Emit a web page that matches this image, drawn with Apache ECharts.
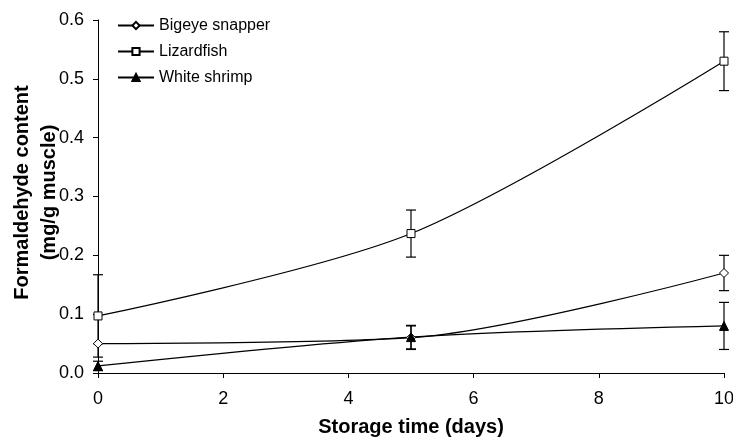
<!DOCTYPE html>
<html>
<head>
<meta charset="utf-8">
<script src="https://cdn.jsdelivr.net/npm/echarts@6/dist/echarts.min.js"></script>
<style>
html, body { margin: 0; padding: 0; background: #fff; }
#chart { width: 733px; height: 437px; }
</style>
</head>
<body>
<div id="chart"></div>
<script>
// storage time (days) and formaldehyde content (mg/g muscle), mean and +- sd
var days = [0, 5, 10];
var bigeye = [0.05, 0.06, 0.17];
var bigeyeErr = [0, 0.02, 0.03];
var lizard = [0.097, 0.237, 0.53];
var lizardErr = [0.07, 0.04, 0.05];
var shrimp = [0.012, 0.061, 0.08];
var shrimpErr = [0.008, 0.02, 0.04];
var names = ["Bigeye snapper", "Lizardfish", "White shrimp"];

var font = "'Liberation Sans', Arial, sans-serif";

function pairs(vals) {
  return days.map(function (d, i) { return [d, vals[i]]; });
}

// vertical error bars with caps
function errorBars(id, vals, errs) {
  return {
    type: "custom",
    name: id,
    silent: true,
    z: 1,
    data: days.map(function (d, i) {
      return [d, vals[i] - errs[i], vals[i] + errs[i]];
    }),
    renderItem: function (params, api) {
      var lo = api.coord([api.value(0), api.value(1)]);
      var hi = api.coord([api.value(0), api.value(2)]);
      var w = 5;
      var style = { stroke: "#000", lineWidth: 1.2 };
      return {
        type: "group",
        children: [
          { type: "line", shape: { x1: lo[0], y1: lo[1], x2: hi[0], y2: hi[1] }, style: style },
          { type: "line", shape: { x1: lo[0] - w, y1: lo[1], x2: lo[0] + w, y2: lo[1] }, style: style },
          { type: "line", shape: { x1: hi[0] - w, y1: hi[1], x2: hi[0] + w, y2: hi[1] }, style: style }
        ]
      };
    }
  };
}

function lineSeries(name, vals, symbol, size, fill) {
  return {
    type: "line",
    name: name,
    data: pairs(vals),
    smooth: 0.3,
    symbol: symbol,
    symbolSize: size,
    showAllSymbol: true,
    z: 3,
    lineStyle: { color: "#000", width: 1.2 },
    itemStyle: { color: fill, borderColor: "#000", borderWidth: 1 }
  };
}

var myChart = echarts.init(document.getElementById("chart"));
var option = {
  backgroundColor: "#fff",
  animation: false,
  textStyle: { fontFamily: font, color: "#000" },
  grid: { left: 98, right: 9, top: 20, bottom: 64, outerBoundsMode: "none", containLabel: false },
  legend: {
    data: names,
    orient: "vertical",
    left: 112,
    top: 12,
    itemWidth: 36,
    itemHeight: 9,
    itemGap: 9,
    textStyle: { fontFamily: font, fontSize: 16, color: "#000", lineHeight: 17 }
  },
  xAxis: {
    type: "value",
    min: 0,
    max: 10,
    interval: 2,
    name: "Storage time (days)",
    nameLocation: "middle",
    nameGap: 44,
    nameMoveOverlap: false,
    nameTextStyle: { fontFamily: font, fontSize: 20, fontWeight: "bold", color: "#000" },
    axisLine: { lineStyle: { color: "#000", width: 1 } },
    axisTick: { show: true, length: 5, lineStyle: { color: "#000" } },
    axisLabel: { fontFamily: font, fontSize: 18, color: "#000", margin: 17 },
    splitLine: { show: false }
  },
  yAxis: {
    type: "value",
    min: 0,
    max: 0.6,
    interval: 0.1,
    name: "Formaldehyde content\n(mg/g muscle)",
    nameLocation: "middle",
    nameRotate: 90,
    nameGap: 35,
    nameMoveOverlap: false,
    nameTextStyle: {
      fontFamily: font, fontSize: 20, fontWeight: "bold", color: "#000",
      lineHeight: 27, padding: [0, 0, 0, 8]
    },
    axisLine: { show: true, lineStyle: { color: "#000", width: 1 } },
    axisTick: { show: true, length: 5, lineStyle: { color: "#000" } },
    axisLabel: {
      fontFamily: font, fontSize: 18, color: "#000", margin: 14,
      formatter: function (v) { return v.toFixed(1); }
    },
    splitLine: { show: false }
  },
  series: [
    errorBars("err-bigeye", bigeye, bigeyeErr),
    errorBars("err-lizard", lizard, lizardErr),
    errorBars("err-shrimp", shrimp, shrimpErr),
    lineSeries(names[0], bigeye, "diamond", 9, "#fff"),
    lineSeries(names[1], lizard, "rect", 8, "#fff"),
    lineSeries(names[2], shrimp, "triangle", 9, "#000")
  ]
};
myChart.setOption(option);
</script>
</body>
</html>
